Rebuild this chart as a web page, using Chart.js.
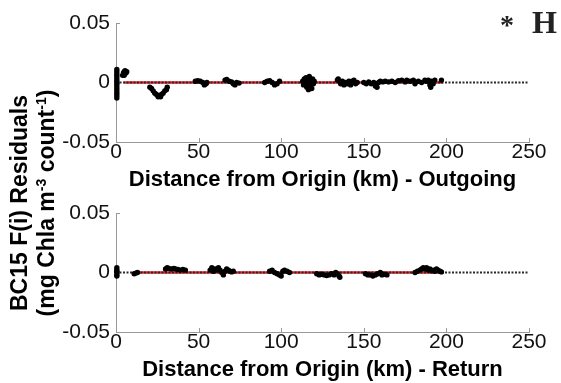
<!DOCTYPE html>
<html>
<head>
<meta charset="utf-8">
<script src="https://cdn.jsdelivr.net/npm/chart.js@4.4.0/dist/chart.umd.min.js"></script>
<style>
	html, body { margin: 0; padding: 0; background: #fff; }
	#wrap { position: relative; width: 561px; height: 383px; overflow: hidden; font-family: 'Liberation Sans', Arial, sans-serif; }
	canvas { position: absolute; left: 0; }
	#panel-out { top: 0; }
	#panel-ret { top: 190px; }
	#ytitle {
		position: absolute; left: 33px; top: 203px; width: 300px;
		transform: translate(-50%, -50%) rotate(-90deg);
		text-align: center; font-weight: bold; font-size: 23px; line-height: 27px;
		color: #000; white-space: nowrap;
	}
	#ytitle sup { font-size: 14px; line-height: 0; vertical-align: 0.6em; }
	.tag { position: absolute; top: 6px; font-family: 'Liberation Serif', 'Times New Roman', serif; font-weight: bold; font-size: 32px; line-height: 32px; color: #222; }
</style>
</head>
<body>
<div id="wrap">
	<canvas id="panel-out" width="561" height="193"></canvas>
	<canvas id="panel-ret" width="561" height="193"></canvas>
	<div id="ytitle">BC15 F(i) Residuals<br>(mg Chla m<sup>-3</sup> count<sup>-1</sup>)</div>
	<span class="tag" style="left:500px; font-size:28px; top:9px;">*</span>
	<span class="tag" style="left:532px;">H</span>
</div>
<script>
// tick marks
const xTicks = [0, 50, 100, 150, 200, 250];
const yTicks = [-0.05, 0, 0.05];
const yTickLabels = ['-0.05', '0', '0.05'];

// outgoing leg: distance (km) and residual
const outKm = [
	0.5, 0.5, 0.5, 0.5, 0.5, 0.5, 0.5, 0.5, 0.5, 0.5, 0.5, 0.5, 0.5,
	4.0, 4.5, 5.0, 5.5, 6.0, 6.5, 5.0,
	20.5, 21.5, 22.5, 23.5, 24.5, 25.5, 26.5, 27.5, 28.5, 29.5, 30.5, 31.0, 25.5, 27,
	48, 49.5, 51, 52.5, 53.5, 54.5, 55,
	66, 67, 68.5, 70, 71, 72, 73, 74.5,
	90, 91.5, 93, 94.5, 96, 97.5, 99,
	113, 113.5, 114, 115, 115.5, 116, 116.5, 117, 117.5, 118, 118.5, 119, 119.5, 120, 115, 117, 118,
	134, 134.5, 135.5, 136, 137, 138, 139, 140, 141, 142, 143, 144, 145, 146,
	150, 151.5, 153, 154.5, 156, 157, 158, 159, 160, 161.5,
	163, 165, 167, 169, 171, 173, 175, 176, 178, 180, 181, 183, 185, 187, 188, 189, 190, 190.5, 191, 192, 193, 197,
];
const outRes = [
	0.011, 0.009, 0.007, 0.005, 0.003, 0.001, -0.001, -0.003, -0.005, -0.007, -0.009, -0.011, -0.013,
	0.006, 0.008, 0.009, 0.010, 0.008, 0.009, 0.006,
	-0.004, -0.005, -0.007, -0.009, -0.010, -0.011, -0.011, -0.010, -0.009, -0.007, -0.006, -0.004, -0.012, -0.012,
	0.001, 0.0015, 0.001, 0, -0.002, -0.001, 0,
	0.002, 0.0025, 0.001, 0.0005, -0.001, -0.002, 0, -0.0005,
	0, 0.001, 0.0015, 0, -0.002, -0.001, 0.001,
	0.001, -0.002, 0.003, 0.004, -0.004, 0.001, -0.006, 0.005, -0.003, 0.002, -0.005, 0.003, -0.001, 0.001, -0.001, 0, -0.002,
	0.002, 0.003, 0.001, -0.001, 0.001, -0.002, 0, -0.001, 0.001, -0.002, 0.001, 0.002, -0.001, 0,
	0, -0.001, 0.0005, -0.001, 0, -0.003, -0.004, 0, 0.001, 0.0005,
	0.001, 0.0005, 0.001, 0, 0.0015, 0.002, 0.0005, 0.002, 0.001, 0.002, -0.001, 0.001, 0, 0.002, 0.001, 0.002, -0.002, -0.004, 0.001, -0.001, 0.002, 0.002,
];

// return leg
const retKm = [
	0.5, 0.5, 0.5, 0.5, 0.5, 0.5,
	11, 12, 13,
	30, 31, 32, 33.5, 35, 36, 37.5, 39, 40.5, 42,
	57, 58, 59, 60, 61, 62, 63, 64, 65, 66, 67, 68, 69, 70, 71,
	93, 94.5, 96, 97.5, 99, 100, 101, 102, 103.5, 105,
	121.5, 123, 124.5, 126, 127.5, 129, 130.5, 132, 133, 134, 135, 135.5,
	151, 152.5, 154, 155.5, 157, 158.5, 160, 161, 162.5, 164,
	181, 182.5, 184, 185, 186, 187, 188, 189, 190, 191, 192, 193, 194, 195, 196, 197,
];
const retRes = [
	0.004, 0.002, 0, -0.002, -0.003, 0.001,
	-0.001, -0.0005, 0,
	0.003, 0.004, 0.0035, 0.003, 0.0035, 0.003, 0.0025, 0.002, 0.0025, 0.002,
	0.002, 0.004, 0.001, 0.003, 0.002, 0.004, 0.002, 0, -0.002, 0.001, 0.003, 0.002, 0.001, 0.0005, 0.001,
	0.001, 0.002, 0, -0.001, -0.002, -0.003, 0.001, 0.002, 0.001, 0,
	-0.001, -0.002, -0.0015, -0.002, -0.0025, -0.002, -0.001, -0.002, 0, -0.001, -0.003, -0.004,
	-0.001, -0.002, -0.002, -0.003, -0.002, -0.001, 0, -0.002, -0.0015, -0.002,
	0, 0.001, 0.002, 0.003, 0.004, 0.003, 0.004, 0.002, 0.003, 0.0015, 0.002, 0.001, 0.003, 0.002, 0.001, 0.0005,
];

// red fit lines and the dotted zero reference
const outFitKm = [5, 198];
const retFitKm = [12, 197];
const zeroKm = [0, 250];

const axisColor = '#999';
const tickTextColor = '#111';

Chart.defaults.font.family = "'Liberation Sans', Arial, sans-serif";

const inwardTicks = {
	id: 'inwardTicks',
	beforeDatasetsDraw(chart) {
		const { ctx, chartArea, scales } = chart;
		ctx.save();
		ctx.strokeStyle = axisColor;
		ctx.lineWidth = 1;
		ctx.beginPath();
		scales.x.ticks.forEach((t) => {
			const px = Math.round(scales.x.getPixelForValue(t.value)) + 0.5;
			ctx.moveTo(px, chartArea.bottom);
			ctx.lineTo(px, chartArea.bottom - 4);
		});
		scales.y.ticks.forEach((t) => {
			const py = Math.round(scales.y.getPixelForValue(t.value)) + 0.5;
			ctx.moveTo(chartArea.left, py);
			ctx.lineTo(chartArea.left + 4, py);
		});
		ctx.stroke();
		ctx.restore();
	},
};

function toPoints(xs, ys) {
	return xs.map((x, i) => ({ x: x, y: ys[i] }));
}

function makePanel(id, km, res, fitKm, xTitle) {
	const ctx = document.getElementById(id);

	if (!ctx) {
		return;
	}

	new Chart(ctx, {
		type: 'scatter',
		data: {
			datasets: [
				{
					data: toPoints(km, res),
					backgroundColor: '#000',
					borderWidth: 0,
					pointRadius: 2.7,
					clip: false,
				},
				{
					type: 'line',
					data: toPoints(zeroKm, [0, 0]),
					borderColor: '#2a2a2a',
					borderWidth: 2,
					borderDash: [2, 1.5],
					pointRadius: 0,
				},
				{
					type: 'line',
					data: toPoints(fitKm, [0, 0]),
					borderColor: '#e3232b',
					borderWidth: 2.5,
					pointRadius: 0,
				},
			],
		},
		options: {
			responsive: false,
			animation: false,
			devicePixelRatio: 1,
			layout: {
				padding: { top: 23, right: 32, left: 0, bottom: 0 },
			},
			plugins: {
				legend: { display: false },
				tooltip: { enabled: false },
			},
			scales: {
				x: {
					type: 'linear',
					min: 0,
					max: 250,
					afterBuildTicks: (s) => { s.ticks = xTicks.map((v) => ({ value: v })); },
					afterFit: (s) => { s.height = 51; },
					grid: { drawOnChartArea: false, drawTicks: false },
					border: { color: axisColor },
					ticks: {
						color: tickTextColor,
						font: { size: 21 },
						padding: -2,
						maxRotation: 0,
						autoSkip: false,
					},
					title: {
						display: true,
						text: xTitle,
						color: '#000',
						font: { size: 22, weight: 'bold' },
						padding: 0,
					},
				},
				y: {
					type: 'linear',
					min: -0.05,
					max: 0.05,
					afterBuildTicks: (s) => { s.ticks = yTicks.map((v) => ({ value: v })); },
					afterFit: (s) => { s.width = 116; },
					grid: { drawOnChartArea: false, drawTicks: false },
					border: { color: axisColor },
					ticks: {
						color: tickTextColor,
						font: { size: 21 },
						padding: 6,
						callback: (v) => yTickLabels[yTicks.indexOf(v)],
					},
				},
			},
		},
		plugins: [inwardTicks],
	});
}

makePanel('panel-out', outKm, outRes, outFitKm, 'Distance from Origin (km) - Outgoing');
makePanel('panel-ret', retKm, retRes, retFitKm, 'Distance from Origin (km) - Return');
</script>
</body>
</html>
